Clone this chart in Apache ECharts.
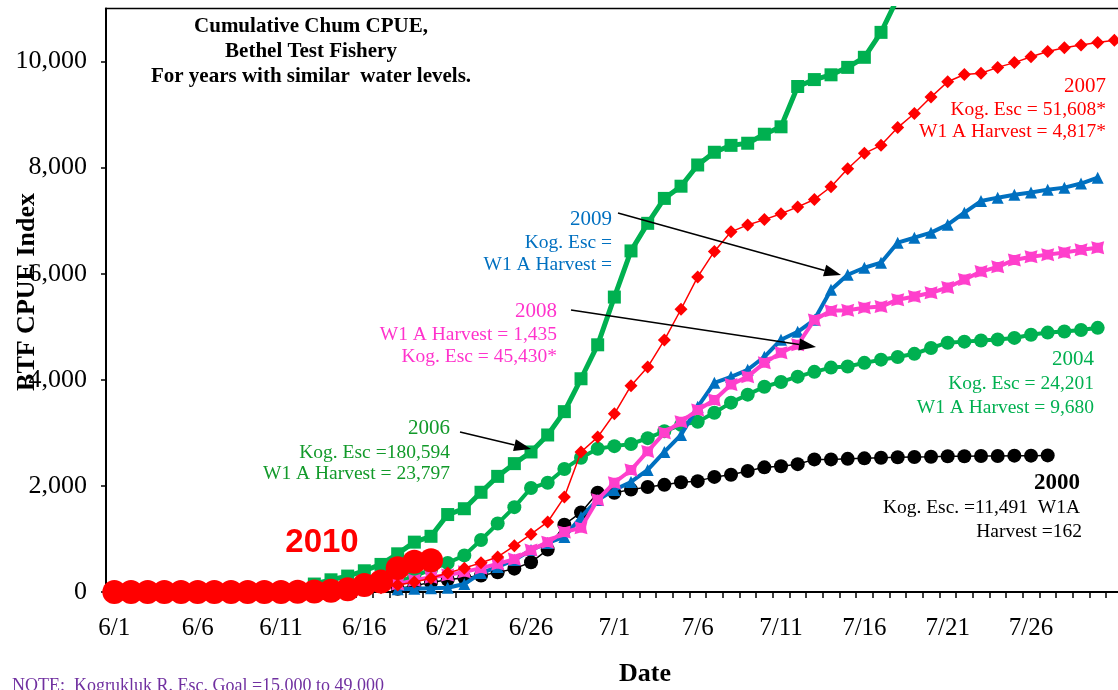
<!DOCTYPE html>
<html>
<head>
<meta charset="utf-8">
<script src="https://cdn.jsdelivr.net/npm/echarts@6/dist/echarts.min.js"></script>
<style>
  html, body { margin: 0; padding: 0; background: #fff; }
  #chart { width: 1118px; height: 690px; }
</style>
</head>
<body>
<div id="chart"></div>
<script>
// Daily categories, 1 June to 31 July
const dates = [
  '6/1','6/2','6/3','6/4','6/5','6/6','6/7','6/8','6/9','6/10',
  '6/11','6/12','6/13','6/14','6/15','6/16','6/17','6/18','6/19','6/20',
  '6/21','6/22','6/23','6/24','6/25','6/26','6/27','6/28','6/29','6/30',
  '7/1','7/2','7/3','7/4','7/5','7/6','7/7','7/8','7/9','7/10',
  '7/11','7/12','7/13','7/14','7/15','7/16','7/17','7/18','7/19','7/20',
  '7/21','7/22','7/23','7/24','7/25','7/26','7/27','7/28','7/29','7/30','7/31'
];
const labeledDates = ['6/1','6/6','6/11','6/16','6/21','6/26','7/1','7/6','7/11','7/16','7/21','7/26'];
const yTicks = [0, 2000, 4000, 6000, 8000, 10000];

// Cumulative CPUE by day (null = no fishing yet / season ended)
const cpue2000 = [
  null,null,null,null,null,null,null,null,null,null,
  null,null,null,null,null,null,null,60,120,180,
  230,270,310,370,440,560,800,1270,1500,1870,
  1870,1930,1980,2020,2070,2090,2170,2210,2280,2350,
  2370,2410,2500,2500,2510,2520,2530,2540,2545,2550,
  2560,2560,2565,2565,2570,2570,2575,null,null,null,null
];
const cpue2004 = [
  null,null,null,null,null,null,null,null,null,null,
  null,null,null,null,30,60,110,190,300,420,
  547,690,980,1290,1600,1960,2060,2320,2530,2700,
  2750,2790,2900,3030,3150,3210,3380,3570,3720,3870,
  3960,4060,4150,4230,4250,4320,4380,4430,4490,4600,
  4700,4720,4740,4760,4790,4850,4890,4910,4940,4980,null
];
const cpue2006 = [
  null,null,null,null,null,null,null,null,null,null,
  null,60,150,230,300,400,520,720,940,1050,
  1460,1570,1880,2180,2420,2640,2960,3400,4020,4660,
  5560,6430,6950,7420,7650,8050,8290,8420,8460,8630,
  8770,9530,9660,9750,9890,10080,10550,11200,null,null,
  null,null,null,null,null,null,null,null,null,null,null
];
const cpue2007 = [
  null,null,null,null,null,null,null,null,null,null,
  null,null,null,null,null,null,80,130,190,260,
  358,450,550,660,870,1090,1320,1790,2640,2920,
  3360,3890,4240,4750,5330,5940,6420,6790,6920,7020,
  7130,7260,7400,7640,7980,8270,8420,8755,9020,9330,
  9620,9755,9780,9890,9980,10090,10190,10260,10310,10360,10400
];
const cpue2008 = [
  null,null,null,null,null,null,null,null,null,null,
  null,null,null,null,null,null,null,150,220,280,
  320,380,450,530,620,790,940,1130,1210,1740,
  2060,2300,2650,3000,3210,3430,3620,3910,4060,4320,
  4510,4660,5130,5300,5310,5360,5380,5510,5570,5640,
  5740,5890,6040,6130,6260,6320,6360,6400,6450,6490,null
];
const cpue2009 = [
  null,null,null,null,null,null,null,null,null,null,
  null,null,null,null,null,null,null,50,60,70,
  80,150,358,472,604,792,925,1038,1415,1736,
  1925,2075,2302,2640,2962,3490,3943,4057,4189,4434,
  4755,4906,5132,5698,5981,6113,6208,6585,6679,6774,
  6925,7151,7370,7434,7490,7530,7585,7623,7700,7811,null
];
const cpue2010 = [
  0,0,0,0,0,0,0,0,0,0,
  0,5,10,25,50,130,200,450,570,600
];

const serif = '"Liberation Serif", "Times New Roman", serif';
const sans = '"Liberation Sans", Arial, sans-serif';

// Notched-square marker used for the 2008 line
const notchedSquare = 'path://M0,0 L4,1.2 L6,1.2 L10,0 L9,4 L9,6 L10,10 L6,8.8 L4,8.8 L0,10 L1,6 L1,4 Z';

function yearLine(name, data, color, symbol, size, width, z) {
  return {
    name: name,
    type: 'line',
    data: data,
    symbol: symbol,
    symbolSize: size,
    showSymbol: true,
    showAllSymbol: true,
    connectNulls: false,
    clip: true,
    z: z,
    lineStyle: { color: color, width: width },
    itemStyle: { color: color, borderWidth: 0 },
    emphasis: { disabled: true }
  };
}

function label(text, x, y, color, font, align, rotation) {
  return {
    type: 'text', x: x, y: y, z: 100, rotation: rotation || 0,
    style: {
      text: text, fill: color, font: font,
      align: align || 'right', verticalAlign: 'middle',
      textAlign: align || 'right', textVerticalAlign: 'middle'
    }
  };
}

// Straight annotation arrow with a filled head at (x2, y2)
function arrow(x1, y1, x2, y2) {
  const ang = Math.atan2(y2 - y1, x2 - x1);
  const len = 17, half = 6;
  const bx = x2 - len * Math.cos(ang), by = y2 - len * Math.sin(ang);
  const px = -Math.sin(ang) * half, py = Math.cos(ang) * half;
  return [
    { type: 'line', z: 100, shape: { x1: x1, y1: y1, x2: bx, y2: by },
      style: { stroke: '#000', lineWidth: 1.6 } },
    { type: 'polygon', z: 100,
      shape: { points: [[x2, y2], [bx + px, by + py], [bx - px, by - py]] },
      style: { fill: '#000' } }
  ];
}

const detail = '19.5px ' + serif;
const yearFont = '21px ' + serif;
const titleFont = 'bold 21px ' + serif;

const chart = echarts.init(document.getElementById('chart'), null, { renderer: 'canvas' });

chart.setOption({
  animation: false,
  backgroundColor: '#fff',
  grid: {
    left: 106, top: 8.5, width: 1016.7, height: 583.5,
    containLabel: false, outerBoundsMode: 'none',
    show: true, borderColor: '#000', borderWidth: 1.5, backgroundColor: 'transparent'
  },
  xAxis: {
    type: 'category',
    data: dates,
    boundaryGap: true,
    axisLine: { lineStyle: { color: '#000', width: 2 } },
    axisTick: { show: true, interval: 0, length: 6, lineStyle: { color: '#000', width: 1.5 } },
    axisLabel: {
      interval: function (idx, value) { return labeledDates.indexOf(value) >= 0; },
      color: '#000', fontFamily: serif, fontSize: 25, margin: 24
    },
    splitLine: { show: false }
  },
  yAxis: {
    type: 'value',
    min: 0, max: 11000, interval: 2000,
    axisLine: { show: true, lineStyle: { color: '#000', width: 2 } },
    axisTick: { show: true, length: 5, lineStyle: { color: '#000', width: 1.5 } },
    axisLabel: {
      color: '#000', fontFamily: serif, fontSize: 26, margin: 19,
      showMaxLabel: false,
      formatter: function (v) { return yTicks.indexOf(v) >= 0 ? v.toLocaleString('en-US') : ''; }
    },
    splitLine: { show: false }
  },
  series: [
    yearLine('2000', cpue2000, '#000000', 'circle', 14, 1.5, 2),
    yearLine('2004', cpue2004, '#00B050', 'circle', 14, 4, 3),
    yearLine('2009', cpue2009, '#0070C0', 'triangle', 12, 4, 4),
    yearLine('2008', cpue2008, '#FF3FCC', notchedSquare, 13, 4, 5),
    yearLine('2007', cpue2007, '#FF0000', 'diamond', 13, 1.5, 6),
    yearLine('2006', cpue2006, '#00B050', 'rect', 13, 5, 7),
    yearLine('2010', cpue2010, '#FF0000', 'circle', 24, 2, 8)
  ],
  graphic: [
    // axis titles
    label('BTF CPUE Index', 27, 292, '#000', 'bold 26px ' + serif, 'center', Math.PI / 2),
    label('Date', 645, 674, '#000', 'bold 26px ' + serif, 'center'),

    // title block
    label('Cumulative Chum CPUE,', 311, 27, '#000', titleFont, 'center'),
    label('Bethel Test Fishery', 311, 52, '#000', titleFont, 'center'),
    label('For years with similar  water levels.', 311, 77, '#000', titleFont, 'center'),

    label('2007', 1106, 86, '#FF0000', yearFont),
    label('Kog. Esc = 51,608*', 1106, 110, '#FF0000', detail),
    label('W1 A Harvest = 4,817*', 1106, 132, '#FF0000', detail),

    label('2009', 612, 219, '#0070C0', yearFont),
    label('Kog. Esc =', 612, 243, '#0070C0', detail),
    label('W1 A Harvest =', 612, 265, '#0070C0', detail),

    label('2008', 557, 311, '#FF33CC', yearFont),
    label('W1 A Harvest = 1,435', 557, 335, '#FF33CC', detail),
    label('Kog. Esc = 45,430*', 557, 357, '#FF33CC', detail),

    label('2004', 1094, 359, '#00B050', yearFont),
    label('Kog. Esc = 24,201', 1094, 384, '#00B050', detail),
    label('W1 A Harvest = 9,680', 1094, 408, '#00B050', detail),

    label('2006', 450, 428, '#129A2A', yearFont),
    label('Kog. Esc =180,594', 450, 453, '#129A2A', detail),
    label('W1 A Harvest = 23,797', 450, 474, '#129A2A', detail),

    label('2000', 1080, 483, '#000', 'bold 23px ' + serif),
    label('Kog. Esc. =11,491  W1A', 1080, 508, '#000', detail),
    label('Harvest =162', 1082, 532, '#000', detail),

    label('2010', 322, 543, '#FF0000', 'bold 33px ' + sans, 'center'),

    {
      type: 'text', x: 12, y: 677, z: 100,
      style: { text: 'NOTE:  Kogrukluk R. Esc. Goal =15,000 to 49,000', fill: '#7030A0',
               font: '18px ' + serif, align: 'left', verticalAlign: 'top',
               textAlign: 'left', textVerticalAlign: 'top' }
    }
  ]
    .concat(arrow(618, 213, 841, 275))
    .concat(arrow(571, 310, 816, 347))
    .concat(arrow(460, 432, 531, 449))
});
</script>
</body>
</html>
